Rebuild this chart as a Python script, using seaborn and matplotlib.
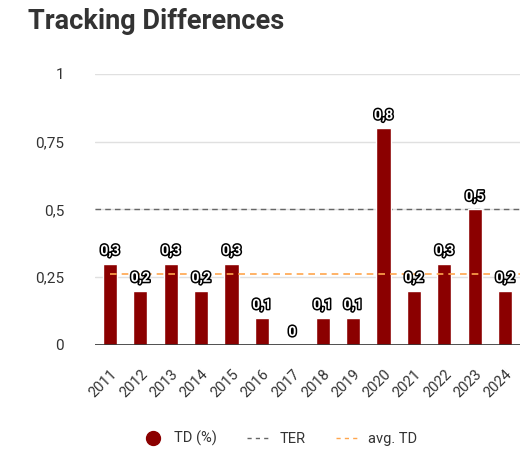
import numpy as np
import pandas as pd
import seaborn as sns
import matplotlib.pyplot as plt
import matplotlib.patheffects as pe
from matplotlib.lines import Line2D

years = ["2011", "2012", "2013", "2014", "2015", "2016", "2017",
         "2018", "2019", "2020", "2021", "2022", "2023", "2024"]
td = [0.3, 0.2, 0.3, 0.2, 0.3, 0.1, 0.0, 0.1, 0.1, 0.8, 0.2, 0.3, 0.5, 0.2]
ter = 0.5
avg_td = 0.26
yticks = [0, 0.25, 0.5, 0.75, 1]
ytick_labels = ["0", "0,25", "0,5", "0,75", "1"]

df = pd.DataFrame({"year": years, "td": td})

sns.set_style("white")
plt.rcParams["font.family"] = ["Roboto", "DejaVu Sans"]

fig = plt.figure(figsize=(5.32, 4.68), dpi=100)
ax = fig.add_axes([0.178, 0.263, 0.8, 0.579])

sns.barplot(data=df, x="year", y="td", color="#8b0000", width=0.47,
            saturation=1, ax=ax, zorder=3)

ax.axhline(ter, color="#666666", lw=1, ls=(0, (4, 3)), zorder=2)
ax.plot([0, len(years) - 1 + 0.5], [avg_td, avg_td], color="#ffa64d", lw=1.2,
        ls=(0, (4, 3)), zorder=4)

# labels: white text with dark outline
for i, v in enumerate(td):
    t = ax.text(i, v + 0.022, f"{v:g}".replace(".", ","), ha="center", va="bottom",
                fontsize=10, fontweight="bold", color="white", zorder=5)
    t.set_path_effects([pe.withStroke(linewidth=2.2, foreground="black")])

ax.set_ylim(0, 1)
ax.set_xlim(-0.5, len(years) - 0.5)
ax.set_yticks(yticks)
ax.set_yticklabels(ytick_labels)
ax.tick_params(axis="y", length=0, pad=22, labelsize=11, labelcolor="#333333")
ax.tick_params(axis="x", length=0, pad=16, labelsize=10.5, labelcolor="#333333")
plt.setp(ax.get_xticklabels(), rotation=45, ha="right", rotation_mode="anchor")
ax.grid(axis="y", color="#e0e0e0", lw=1, zorder=0)
ax.set_axisbelow(True)
ax.axhline(0, color="#333333", lw=1.2, zorder=4)
sns.despine(ax=ax, left=True, bottom=True)
ax.set_xlabel("")
ax.set_ylabel("")

fig.text(0.053, 0.955, "Tracking Differences", fontsize=19.5, fontweight="bold",
         color="#333333", va="center")

handles = [
    Line2D([], [], marker="o", ls="", color="#8b0000", markersize=10),
    Line2D([], [], color="#666666", ls=(0, (3, 3)), lw=1),
    Line2D([], [], color="#ffa64d", ls=(0, (3, 3)), lw=1),
]
fig.legend(handles, ["TD (%)", "TER", "avg. TD"], loc="center",
           bbox_to_anchor=(0.525, 0.063), ncol=3, frameon=False, fontsize=10.5,
           handlelength=1.6, columnspacing=2.1, handletextpad=0.6,
           labelcolor="#333333")

fig.savefig("out.png", dpi=100)
